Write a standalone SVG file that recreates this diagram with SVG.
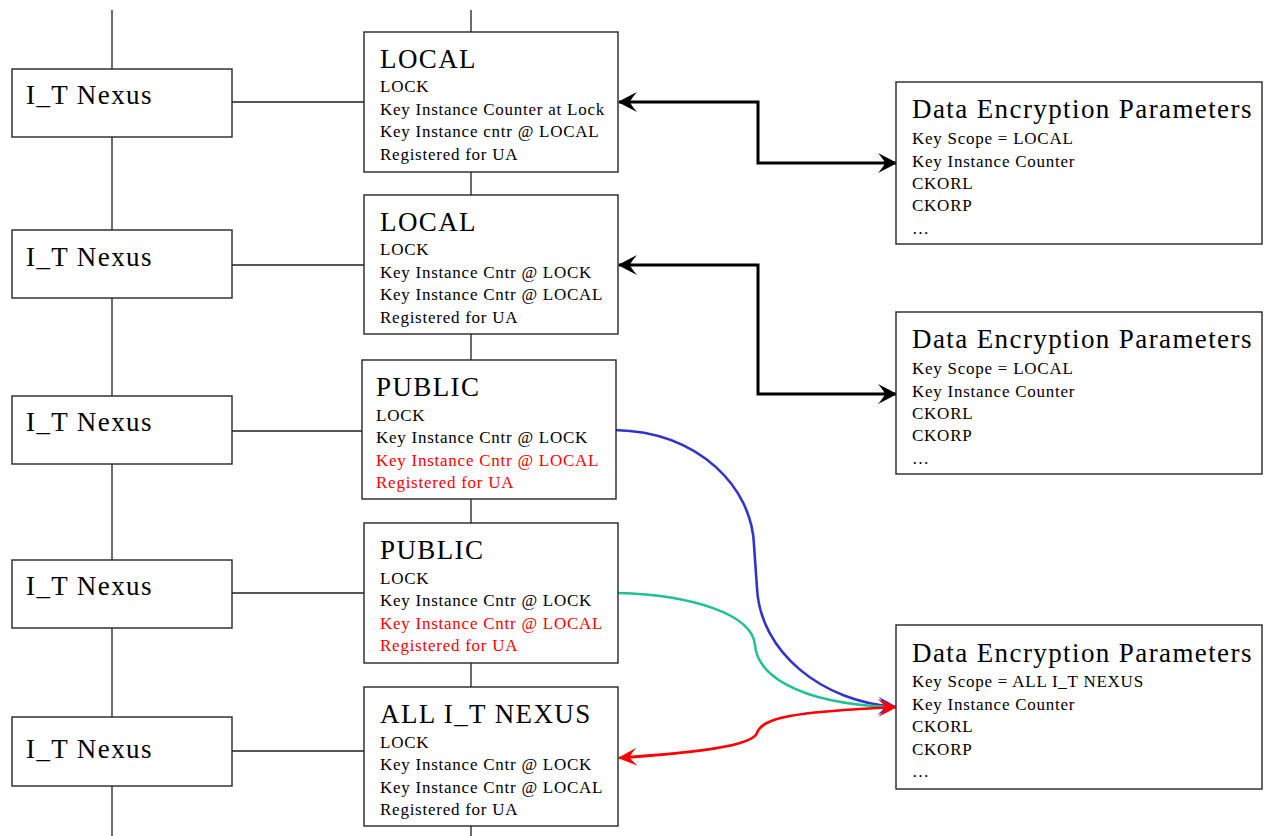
<svg xmlns="http://www.w3.org/2000/svg" width="1264" height="836" viewBox="0 0 1264 836">
<style>
  .box { fill: #ffffff; stroke: #262626; stroke-width: 1.4; }
  .ln { stroke: #1e1e1e; stroke-width: 1.3; fill: none; }
  .t { font-family: "Liberation Serif", "Times New Roman", serif; fill: #000000; }
  .big { font-size: 27px; letter-spacing: 1.4px; }
  .sm { font-size: 17px; letter-spacing: 0.75px; }
  .red { fill: #ff0000; }
  .blk { stroke: #000000; stroke-width: 3; fill: none; }
  .cv { stroke-width: 2.6; fill: none; }
</style>
<defs>
  <marker id="ah" viewBox="-20 -11 22 22" refX="0" refY="0" markerWidth="22" markerHeight="22" markerUnits="userSpaceOnUse" orient="auto-start-reverse">
    <path d="M1,0 Q-8,-5 -18,-10 Q-12,-3 -11,0 Q-12,3 -18,10 Q-8,5 1,0 Z" fill="#000000"/>
  </marker>
  <marker id="ahr" viewBox="-20 -11 22 22" refX="0" refY="0" markerWidth="22" markerHeight="22" markerUnits="userSpaceOnUse" orient="auto-start-reverse">
    <path d="M1,0 Q-8,-4.5 -18,-9 Q-12,-3 -11,0 Q-12,3 -18,9 Q-8,4.5 1,0 Z" fill="#ff0000"/>
  </marker>
  <marker id="ahb" viewBox="-20 -11 22 22" refX="0" refY="0" markerWidth="22" markerHeight="22" markerUnits="userSpaceOnUse" orient="auto">
    <path d="M1,0 Q-8,-4.5 -18,-9 Q-12,-3 -11,0 Q-12,3 -18,9 Q-8,4.5 1,0 Z" fill="#3333cc"/>
  </marker>
</defs>

<g id="connectors">
  <line class="ln" x1="112" y1="10" x2="112" y2="836"/>
  <line class="ln" x1="471" y1="10" x2="471" y2="836"/>
  <line class="ln" x1="232" y1="102" x2="364" y2="102"/>
  <line class="ln" x1="232" y1="265" x2="364" y2="265"/>
  <line class="ln" x1="232" y1="431" x2="362" y2="431"/>
  <line class="ln" x1="232" y1="593" x2="364" y2="593"/>
  <line class="ln" x1="232" y1="751" x2="364" y2="751"/>
  <path class="blk" d="M619,102 L758,102 L758,163 L896,163" marker-start="url(#ah)" marker-end="url(#ah)"/>
  <path class="blk" d="M619,265 L758,265 L758,394 L896,394" marker-start="url(#ah)" marker-end="url(#ah)"/>
  <path class="cv" stroke="#3333cc" d="M615,430 C700,432 752,488 754,545 L757,588 C760,652 822,702 896,707" marker-end="url(#ahb)"/>
  <path class="cv" stroke="#1fc195" d="M618,593 C692,595 752,614 755,645 C757,672 792,703 890,707"/>
  <path class="cv" stroke="#ff0000" d="M619,758 C700,752 752,746 757,733 C762,718 790,712 896,707" marker-start="url(#ahr)" marker-end="url(#ahr)"/>
</g>

<g id="nexus1"><rect class="box" x="12" y="69" width="220" height="68"/><text class="t big" x="26" y="104">I_T Nexus</text></g>
<g id="nexus2"><rect class="box" x="12" y="230" width="220" height="68"/><text class="t big" x="26" y="266">I_T Nexus</text></g>
<g id="nexus3"><rect class="box" x="12" y="396" width="220" height="68"/><text class="t big" x="26" y="431">I_T Nexus</text></g>
<g id="nexus4"><rect class="box" x="12" y="560" width="220" height="68"/><text class="t big" x="26" y="595">I_T Nexus</text></g>
<g id="nexus5"><rect class="box" x="12" y="717" width="220" height="69"/><text class="t big" x="26" y="758">I_T Nexus</text></g>

<g id="key1">
  <rect class="box" x="364" y="32" width="254" height="140"/>
  <text class="t big" x="380" y="68">LOCAL</text>
  <text class="t sm" x="380" y="92">LOCK</text>
  <text class="t sm" x="380" y="115">Key Instance Counter at Lock</text>
  <text class="t sm" x="380" y="137">Key Instance cntr @ LOCAL</text>
  <text class="t sm" x="380" y="160">Registered for UA</text>
</g>
<g id="key2">
  <rect class="box" x="364" y="195" width="254" height="139"/>
  <text class="t big" x="380" y="231">LOCAL</text>
  <text class="t sm" x="380" y="255">LOCK</text>
  <text class="t sm" x="380" y="278">Key Instance Cntr @ LOCK</text>
  <text class="t sm" x="380" y="300">Key Instance Cntr @ LOCAL</text>
  <text class="t sm" x="380" y="323">Registered for UA</text>
</g>
<g id="key3">
  <rect class="box" x="362" y="360" width="254" height="139"/>
  <text class="t big" x="376" y="396">PUBLIC</text>
  <text class="t sm" x="376" y="421">LOCK</text>
  <text class="t sm" x="376" y="443">Key Instance Cntr @ LOCK</text>
  <text class="t sm red" x="376" y="466">Key Instance Cntr @ LOCAL</text>
  <text class="t sm red" x="376" y="488">Registered for UA</text>
</g>
<g id="key4">
  <rect class="box" x="364" y="523" width="254" height="140"/>
  <text class="t big" x="380" y="559">PUBLIC</text>
  <text class="t sm" x="380" y="584">LOCK</text>
  <text class="t sm" x="380" y="606">Key Instance Cntr @ LOCK</text>
  <text class="t sm red" x="380" y="629">Key Instance Cntr @ LOCAL</text>
  <text class="t sm red" x="380" y="651">Registered for UA</text>
</g>
<g id="key5">
  <rect class="box" x="364" y="687" width="254" height="139"/>
  <text class="t big" x="380" y="723">ALL I_T NEXUS</text>
  <text class="t sm" x="380" y="748">LOCK</text>
  <text class="t sm" x="380" y="770">Key Instance Cntr @ LOCK</text>
  <text class="t sm" x="380" y="793">Key Instance Cntr @ LOCAL</text>
  <text class="t sm" x="380" y="815">Registered for UA</text>
</g>

<g id="dep1">
  <rect class="box" x="896" y="82" width="366" height="162"/>
  <text class="t big" x="912" y="118">Data Encryption Parameters</text>
  <text class="t sm" x="912" y="144">Key Scope = LOCAL</text>
  <text class="t sm" x="912" y="167">Key Instance Counter</text>
  <text class="t sm" x="912" y="189">CKORL</text>
  <text class="t sm" x="912" y="211">CKORP</text>
  <text class="t sm" x="912" y="234">…</text>
</g>
<g id="dep2">
  <rect class="box" x="896" y="312" width="366" height="162"/>
  <text class="t big" x="912" y="348">Data Encryption Parameters</text>
  <text class="t sm" x="912" y="374">Key Scope = LOCAL</text>
  <text class="t sm" x="912" y="397">Key Instance Counter</text>
  <text class="t sm" x="912" y="419">CKORL</text>
  <text class="t sm" x="912" y="441">CKORP</text>
  <text class="t sm" x="912" y="464">…</text>
</g>
<g id="dep3">
  <rect class="box" x="896" y="625" width="366" height="164"/>
  <text class="t big" x="912" y="662">Data Encryption Parameters</text>
  <text class="t sm" x="912" y="687">Key Scope = ALL I_T NEXUS</text>
  <text class="t sm" x="912" y="710">Key Instance Counter</text>
  <text class="t sm" x="912" y="732">CKORL</text>
  <text class="t sm" x="912" y="755">CKORP</text>
  <text class="t sm" x="912" y="777">…</text>
</g>
</svg>
